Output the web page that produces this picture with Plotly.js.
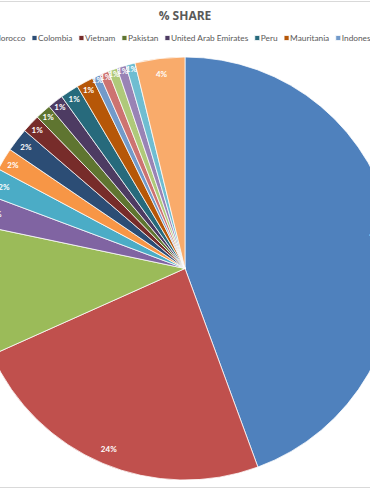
<!DOCTYPE html>
<html><head><meta charset="utf-8">
<script src="https://cdn.plot.ly/plotly-3.0.1.min.js"></script>
<style>
html,body{margin:0;padding:0;background:#fff;}
#wrap{position:relative;width:370px;height:490px;overflow:hidden;background:#fff;}
#chart{position:absolute;left:-815px;top:0;width:2000px;height:490px;}
.bt{position:absolute;left:0;width:370px;height:1px;background:#d9d9d9;}
</style></head><body>
<div id="wrap"><div id="chart"></div><div class="bt" style="top:1px"></div><div class="bt" style="top:487px"></div></div>
<script>
var chartTitle = '% SHARE';
var countries = ['China', 'India', 'Egypt', 'Saudi Arabia', 'Turkey', 'Morocco', 'Colombia', 'Vietnam', 'Pakistan',
  'United Arab Emirates', 'Peru', 'Mauritania', 'Indonesia', 'Chile', 'Malaysia', 'Thailand', 'Ecuador', 'Others'];
var shares = [44.4, 23.9, 10.0, 2.4, 2.1, 1.7, 1.8, 1.4, 1.2, 1.2, 1.4, 1.3, 0.6, 0.7, 0.7, 0.7, 0.7, 3.8];
var sliceColors = ['#4F81BD', '#C0504D', '#9BBB59', '#8064A2', '#4BACC6', '#F79646',
  '#2C4D75', '#772C2A', '#5F7530', '#4D3B62', '#276A7C', '#B65708',
  '#729ACA', '#CD7371', '#AFC97A', '#9983B5', '#6FBDD1', '#F9AB6B'];

var pieMain = {
  type: 'pie', labels: countries, values: shares, sort: false, direction: 'clockwise', rotation: 0,
  marker: {colors: sliceColors, line: {color: 'rgba(255,255,255,0.75)', width: 1}},
  textinfo: 'none', hoverinfo: 'skip', domain: {x: [0, 1], y: [0, 1]}
};
var pieLabels = {
  type: 'pie', labels: countries, values: shares, sort: false, direction: 'clockwise', rotation: 0,
  hole: 0.85, showlegend: false,
  marker: {colors: countries.map(function(){return 'rgba(0,0,0,0)';}), line: {width: 0}},
  texttemplate: '%{percent:.0%}', textposition: 'inside', insidetextorientation: 'horizontal',
  textfont: {family: 'Lato', size: 8, color: '#ffffff', weight: 'bold'},
  hoverinfo: 'skip', domain: {x: [0, 1], y: [0, 1]}
};
var layout = {
  width: 2000, height: 490,
  margin: {l: 0, r: 0, t: 57, b: 10},
  paper_bgcolor: 'rgba(0,0,0,0)', plot_bgcolor: 'rgba(0,0,0,0)',
  title: {text: chartTitle, x: 0.5, xanchor: 'center', yref: 'container', y: 1 - 16/490, yanchor: 'middle',
    font: {family: 'Open Sans', size: 12, color: '#595959', weight: 'bold'}},
  showlegend: true,
  legend: {orientation: 'h', x: 0.5, xanchor: 'center', yref: 'container', y: 1 - 38/490, yanchor: 'middle',
    font: {family: 'Lato', size: 8.3, color: '#595959'}, traceorder: 'normal'},
  uniformtext: {mode: 'show', minsize: 8}
};
function parseT(el){
  var m = /translate\(\s*([-\d.e]+)[ ,]+([-\d.e]+)\s*\)/.exec(el.getAttribute('transform') || '');
  return m ? [parseFloat(m[1]), parseFloat(m[2])] : [0, 0];
}
Plotly.newPlot('chart', [pieMain, pieLabels], layout, {staticPlot: true, displayModeBar: false}).then(function(gd){
  var legendG = gd.querySelector('g.legend');
  if (!legendG) return;
  var items = legendG.querySelectorAll('g.traces');
  var lt = parseT(legendG);
  var sb = legendG.querySelector('g.scrollbox');
  var st = sb ? parseT(sb) : [0, 0];
  var widths = [];
  items.forEach(function(it){ widths.push(it.querySelector('text.legendtext').getComputedTextLength()); });
  var offset = 815;
  var anchorIdx = countries.indexOf('Colombia');
  var pos = [];
  pos[anchorIdx] = 32 + offset;
  var i;
  for (i = anchorIdx + 1; i < items.length; i++) pos[i] = pos[i-1] + 6 + widths[i-1] + 6.5;
  for (i = anchorIdx - 1; i >= 0; i--) pos[i] = pos[i+1] - 6 - widths[i] - 6.5;
  var y0 = parseT(items[0])[1];
  items.forEach(function(it, k){
    it.setAttribute('transform', 'translate(' + (pos[k] - lt[0] - st[0]) + ',' + y0 + ')');
    var t = it.querySelector('text.legendtext');
    t.setAttribute('x', 6);
    t.querySelectorAll('tspan').forEach(function(s){ if (s.hasAttribute('x')) s.setAttribute('x', 6); });
    var p = it.querySelector('.legendpoints path');
    if (p) { p.setAttribute('d', 'M0,2.5H5V-2.5H0Z'); p.setAttribute('transform', ''); }
  });
});
</script>
</body></html>
